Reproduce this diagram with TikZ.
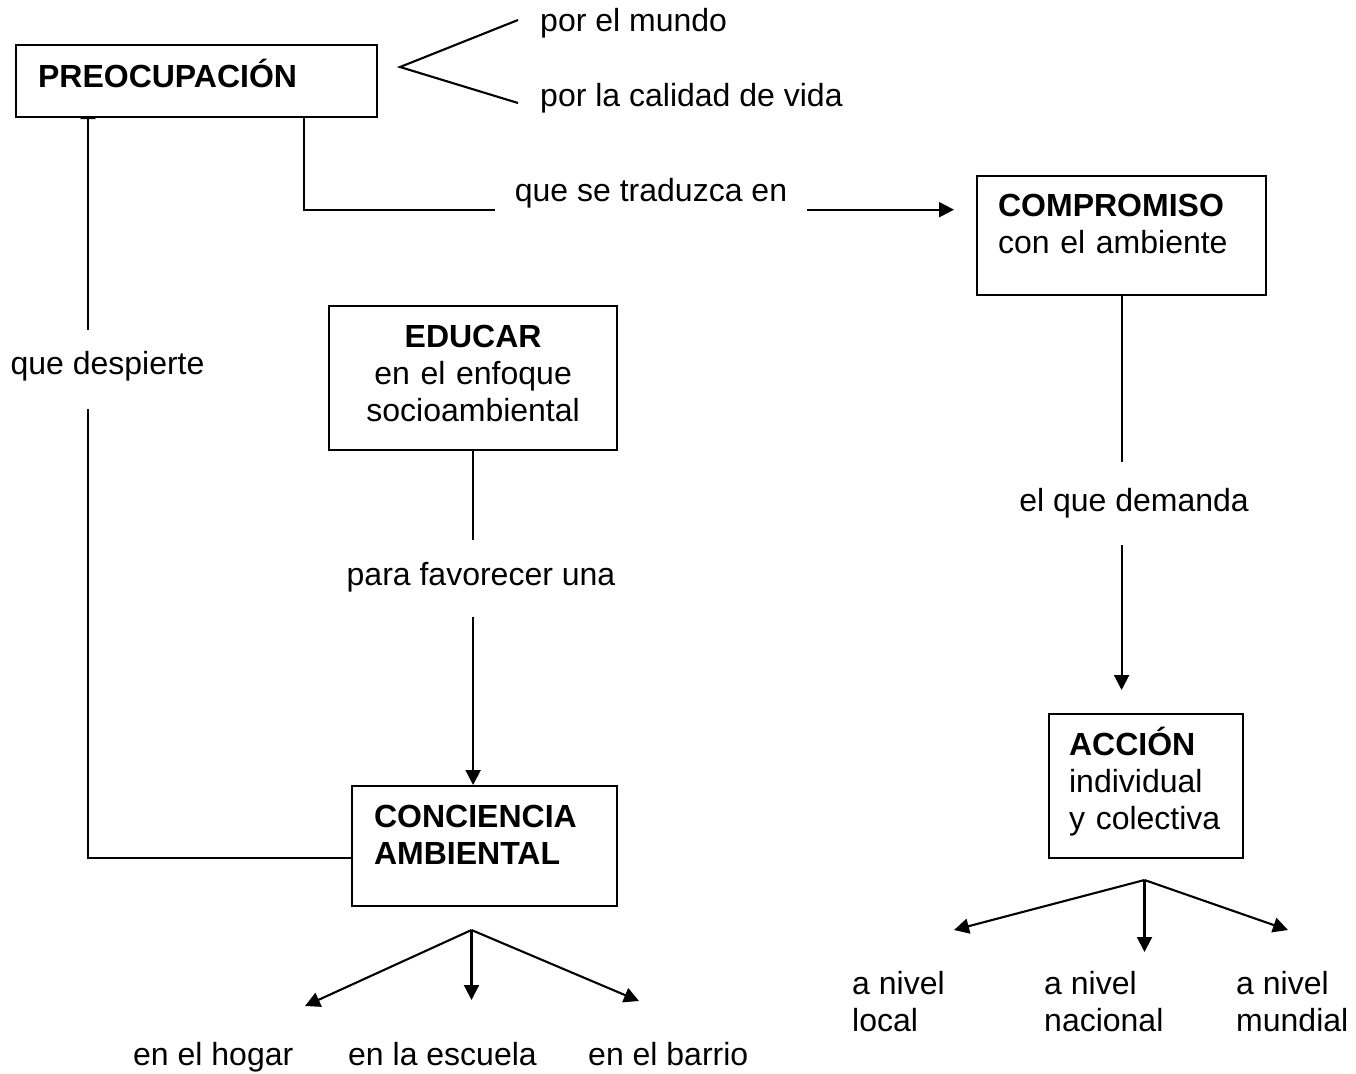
\documentclass[tikz,border=0pt]{standalone}
\usepackage{fontspec}
\setmainfont{Liberation Sans}
\usetikzlibrary{arrows.meta}
\pgfdeclarelayer{bg}
\pgfsetlayers{bg,main}
\begin{document}
\begin{tikzpicture}[x=1pt,y=-1pt,
  every node/.style={font=\fontsize{32}{37}\selectfont},
  box/.style={draw, line width=2.2pt, fill=white, anchor=north west, inner ysep=0pt, align=left},
  lab/.style={inner sep=0pt, anchor=base},
  txt/.style={inner sep=0pt, anchor=base west, align=left},
  con/.style={line width=2.1pt},
  arr/.style={con, -{Triangle[length=15pt,width=15pt]}}]
\useasboundingbox (0,0) rectangle (1356,1073);
\begin{pgfonlayer}{bg}
\fill[white] (0,0) rectangle (1356,1073);
\end{pgfonlayer}

% boxes
\node[box, text width=317pt, inner xsep=22pt, text height=42pt, text depth=30pt] (preo) at (15,44) {\bfseries PREOCUPACIÓN};
\node[box, text width=247pt, inner xsep=21pt, text height=40.5pt, text depth=78.5pt] (comp) at (976,175) {\textbf{COMPROMISO}\\con el ambiente};
\node[box, align=center, text width=288pt, inner xsep=0pt, text height=41.5pt, text depth=102.5pt] (edu) at (328,305) {\textbf{EDUCAR}\\en el enfoque\\socioambiental};
\node[box, text width=221pt, inner xsep=22pt, text height=41.5pt, text depth=78.5pt] (conc) at (351,785) {\textbf{CONCIENCIA}\\\textbf{AMBIENTAL}};
\node[box, text width=154pt, inner xsep=20pt, text height=41.5pt, text depth=102.5pt] (acc) at (1048,713) {\textbf{ACCIÓN}\\individual\\y colectiva};

% connector labels
\node[lab, text height=23pt, text depth=8.5pt, inner xsep=20pt] (trad) at (651,201) {que se traduzca en};
\node[lab, text height=44pt, text depth=35pt] (desp) at (107.5,374) {que despierte};
\node[lab, text height=49.5pt, text depth=33.5pt] (dem) at (1134,511.5) {el que demanda};
\node[lab, text height=45pt, text depth=32pt] (para) at (481,585) {para favorecer una};

% free texts
\node[txt] (mundo) at (540,32) {por el mundo};
\node[txt] (calidad) at (540,106) {por la calidad de vida};
\node[txt] (hogar) at (133,1065) {en el hogar};
\node[txt] (escuela) at (348,1065) {en la escuela};
\node[txt] (barrio) at (588,1065) {en el barrio};
\node[txt] (local) at (852,1031) {a nivel\\local};
\node[txt] (nacional) at (1044,1031) {a nivel\\nacional};
\node[txt] (mundial) at (1236,1031) {a nivel\\mundial};

% coordinates
\coordinate (f1) at (400,67);
\coordinate (f1a) at (518,20);
\coordinate (f1b) at (518,103);
\coordinate (f2) at (471.5,930);
\coordinate (f2a) at (305,1006);
\coordinate (f2b) at (471.5,1000);
\coordinate (f2c) at (639,1001);
\coordinate (f3) at (1144.5,880);
\coordinate (f3a) at (954,930);
\coordinate (f3b) at (1144.5,952);
\coordinate (f3c) at (1288,930);

\begin{pgfonlayer}{bg}
\draw[con] (f1a) -- (f1) -- (f1b);
\draw[con] ([xshift=107.5pt]preo.south) |- (trad.south west);
\draw[arr, shorten >=22pt] (trad.south east) -- (trad.south east -| comp.west);
\draw[con] (comp.south) -- (comp.south |- dem.north);
\draw[arr, shorten >=23pt] (comp.south |- dem.south) -- (comp.south |- acc.north);
\draw[con] (edu.south) -- (edu.south |- para.north);
\draw[arr] (edu.south |- para.south) -- (edu.south |- conc.north);
\draw[con] ([yshift=-12pt]conc.west) -| ([xshift=-19.5pt]desp.south);
\draw[arr, shorten >=-14pt] ([xshift=-19.5pt]desp.north) -- ([xshift=-19.5pt]desp.north |- preo.south);
\draw[arr] (f2) -- (f2a);
\draw[arr] (f2) -- (f2b);
\draw[arr] (f2) -- (f2c);
\draw[arr] (f3) -- (f3a);
\draw[arr] (f3) -- (f3b);
\draw[arr] (f3) -- (f3c);
\end{pgfonlayer}
\end{tikzpicture}
\end{document}
